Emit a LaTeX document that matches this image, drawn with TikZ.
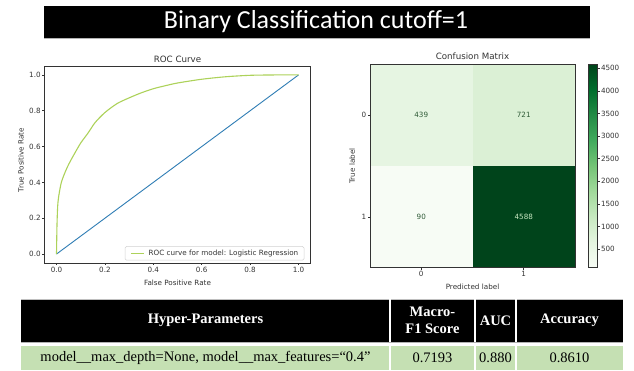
\documentclass[tikz,border=0pt]{standalone}
\usepackage{fontspec}
\setmainfont{Liberation Serif}
\newfontfamily\plotfont{DejaVu Sans}
\newfontfamily\titlefont{Carlito}
\usetikzlibrary{calc}

\definecolor{rocblue}{HTML}{2F7DB5}
\definecolor{rocgreen}{HTML}{ADD25A}
\definecolor{axisgray}{HTML}{333333}
\definecolor{tablegreen}{HTML}{C5E0B3}
\definecolor{gA}{HTML}{F7FCF5}
\definecolor{gB}{HTML}{E5F5E0}
\definecolor{gC}{HTML}{C7E9C0}
\definecolor{gD}{HTML}{A1D99B}
\definecolor{gE}{HTML}{74C476}
\definecolor{gF}{HTML}{41AB5D}
\definecolor{gG}{HTML}{238B45}
\definecolor{gH}{HTML}{006D2C}
\definecolor{gI}{HTML}{00441B}
\definecolor{cellA}{RGB}{230,245,226}
\definecolor{cellB}{RGB}{219,240,213}
\definecolor{darktext}{HTML}{2E5A36}
\definecolor{lighttext}{HTML}{C8E8C2}

\tikzset{
  plottext/.style={font=\plotfont\fontsize{7.2}{8.6}\selectfont, text=axisgray, inner sep=1pt},
  plottitle/.style={font=\plotfont\fontsize{8.7}{10.4}\selectfont, text=axisgray, inner sep=1pt},
  axisline/.style={draw=axisgray, line width=0.6pt},
  headcell/.style={font=\fontsize{14.5}{16.5}\selectfont\bfseries, text=white, align=center, inner sep=0pt},
  bodycell/.style={font=\fontsize{14.5}{16.5}\selectfont, text=black, inner sep=0pt},
  sepline/.style={draw=white, line width=1.6pt},
}

\begin{document}
\begin{tikzpicture}[x=1pt,y=-1pt]
\useasboundingbox[fill=white] (0,0) rectangle (634,371);

% ---- title bar ----
\fill[black] (44,6) rectangle (590,37.6);
\draw[gray!60, line width=0.7pt] (44,38.1) -- (590,38.1);
\node[text=white, font=\titlefont\fontsize{26}{30}\selectfont, inner sep=0pt] (title) at (316,22) {Binary Classification cutoff=1};

% ---- ROC curve ----
\node[plottitle] (roctitle) at (177.5,59) {ROC Curve};
\node[plottext] (rocxlabel) at (177.5,283) {False Positive Rate};
\node[plottext, rotate=90] (rocylabel) at (21,160) {True Positive Rate};
\begin{scope}[shift={(56.5,254.05)}, x=242pt, y=179.1pt]
  \draw[rocblue, line width=0.9pt] (0,0) -- (1,1);
  \draw[rocgreen, line width=1.1pt, line join=round] plot[smooth, tension=0.45] coordinates {
    (0,0) (0.002,0.16) (0.005,0.27) (0.01,0.33) (0.02,0.40) (0.035,0.455)
    (0.05,0.50) (0.07,0.55) (0.1,0.62) (0.13,0.675) (0.16,0.735) (0.2,0.79)
    (0.25,0.84) (0.3,0.872) (0.35,0.9) (0.4,0.923) (0.45,0.94) (0.5,0.955)
    (0.6,0.976) (0.7,0.99) (0.8,0.998) (0.9,1.0) (1,1)};
  \draw[axisline] (-0.05,-0.05) rectangle (1.05,1.05);
  \foreach \t/\l in {0/0.0,0.2/0.2,0.4/0.4,0.6/0.6,0.8/0.8,1/1.0} {
    \draw[axisline] (\t,-0.05) -- ++(0,-2.4pt) node[plottext, anchor=north] {\l};
    \draw[axisline] (-0.05,\t) -- ++(-2.4pt,0) node[plottext, anchor=east] {\l};
  }
\end{scope}
% legend
\draw[gray!35, fill=white, rounded corners=1.5pt, line width=0.5pt] (125,246.5) rectangle (304,260.2);
\coordinate (legA) at (131,253.4);
\coordinate (legB) at (144,253.4);
\draw[rocgreen, line width=1.1pt] (legA) -- (legB);
\node[plottext, anchor=west] (legtext) at (147.5,253.4) {ROC curve for model: Logistic Regression};

% ---- confusion matrix ----
\node[plottitle] (cmtitle) at (472.5,56.7) {Confusion Matrix};
\fill[cellA] (370,64.3) rectangle (472.5,166);
\fill[cellB] (472.5,64.3) rectangle (575,166);
\fill[gA] (370,166) rectangle (472.5,267.7);
\fill[gI] (472.5,166) rectangle (575,267.7);
\draw[axisline] (370,64.3) rectangle (575,267.7);
\node[plottext, text=darktext] (c00) at (421.25,115.2) {439};
\node[plottext, text=darktext] (c01) at (523.75,115.2) {721};
\node[plottext, text=darktext] (c10) at (421.25,216.9) {90};
\node[plottext, text=lighttext] (c11) at (523.75,216.9) {4588};
\foreach \p/\l in {115.2/0,216.9/1}
  \draw[axisline] (370,\p) -- ++(-2.4pt,0) node[plottext, anchor=east] {\l};
\foreach \p/\l in {421.25/0,523.75/1}
  \draw[axisline] (\p,267.7) -- ++(0,-2.4pt) node[plottext, anchor=north] {\l};
\node[plottext, rotate=90] (cmylabel) at (352.3,166) {True label};
\node[plottext] (cmxlabel) at (472.5,286.7) {Predicted label};

% colour bar
\foreach \a/\b [count=\i from 0] in {gA/gB,gB/gC,gC/gD,gD/gE,gE/gF,gF/gG,gG/gH,gH/gI} {
  \pgfmathsetmacro\ylo{267.7-\i*25.425}
  \pgfmathsetmacro\yhi{267.7-(\i+1)*25.425}
  \shade[bottom color=\a, top color=\b] (588.3,\ylo) rectangle (597.3,\yhi);
}
\draw[axisline] (588.3,64.3) rectangle (597.3,267.7);
\foreach \v in {500,1000,...,4500} {
  \pgfmathsetmacro\yy{267.7-(\v-90)*0.04522}
  \draw[axisline] (597.3,\yy) -- ++(2.4pt,0) node[plottext, anchor=west] {\v};
}

% ---- results table ----
\fill[black] (21,299) rectangle (623,342);
\draw[gray!50, line width=0.6pt] (21,298.8) -- (623,298.8);
\draw[gray!60, line width=0.7pt] (21,342.4) -- (623,342.4);
\fill[tablegreen] (21,346) rectangle (623,369.5);
\foreach \s in {390,475,516} {
  \draw[sepline] (\s,299) -- (\s,342);
  \draw[sepline] (\s,346) -- (\s,369.5);
}
\node[headcell] (hpar) at (205.5,320.5) {Hyper-Parameters};
\node[headcell] (hf1) at (432.5,320.5) {Macro-\\F1 Score};
\node[headcell] (hauc) at (495.5,320.5) {AUC};
\node[headcell] (hacc) at (569.5,320.5) {Accuracy};
\node[bodycell] (bpar) at (205.5,358) {model\_\_max\_depth=None, model\_\_max\_features=“0.4”};
\node[bodycell] (bf1) at (432.5,358) {0.7193};
\node[bodycell] (bauc) at (495.5,358) {0.880};
\node[bodycell] (bacc) at (569.5,358) {0.8610};
\end{tikzpicture}
\end{document}
